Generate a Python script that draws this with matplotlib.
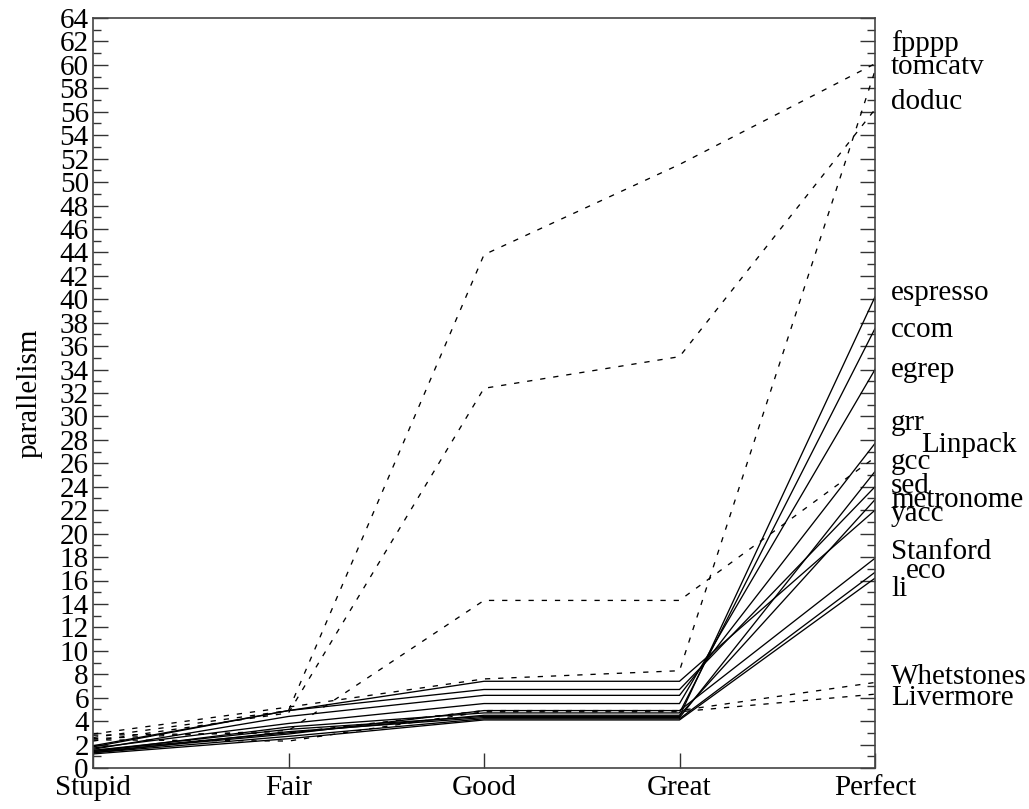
import matplotlib
matplotlib.use("Agg")
import matplotlib.pyplot as plt
import matplotlib.transforms as mtransforms
from matplotlib.ticker import MultipleLocator

plt.rcParams['font.family'] = ['Liberation Serif', 'DejaVu Serif']

models = ["Stupid", "Fair", "Good", "Great", "Perfect"]

# benchmark name -> parallelism under each model
fpppp      = [2.6, 4.9, 43.8, 51.5, 60.1]
tomcatv    = [2.9, 5.2, 7.6, 8.3, 59.5]
doduc      = [2.3, 4.7, 32.4, 35.1, 56.2]
linpack    = [2.5, 3.2, 14.3, 14.3, 26.5]
whetstones = [2.8, 3.0, 4.9, 4.9, 7.3]
livermore  = [2.4, 2.3, 4.8, 4.8, 6.3]

espresso   = [1.5, 3.3, 4.4, 4.4, 40.2]
ccom       = [1.4, 3.5, 4.7, 4.7, 37.5]
egrep      = [1.7, 3.8, 5.5, 5.5, 34.0]
grr        = [1.6, 4.4, 6.2, 6.2, 27.7]
gcc        = [1.3, 3.1, 4.3, 4.3, 25.3]
sed        = [1.8, 4.9, 6.7, 6.7, 24.0]
metronome  = [1.5, 3.0, 4.5, 4.5, 22.9]
yacc       = [1.9, 4.9, 7.4, 7.4, 22.0]
stanford   = [1.4, 2.9, 4.9, 4.9, 17.9]
eco        = [1.3, 2.7, 4.2, 4.2, 16.7]
li         = [1.2, 2.5, 4.1, 4.1, 16.2]

fp_names = ["fpppp", "tomcatv", "doduc", "Linpack", "Whetstones", "Livermore"]
fp_series = [fpppp, tomcatv, doduc, linpack, whetstones, livermore]
int_names = ["espresso", "ccom", "egrep", "grr", "gcc", "sed", "metronome",
             "yacc", "Stanford", "eco", "li"]
int_series = [espresso, ccom, egrep, grr, gcc, sed, metronome, yacc,
              stanford, eco, li]

# label heights at the right edge (data units)
label_names = ["fpppp", "tomcatv", "doduc", "espresso", "ccom", "egrep", "grr",
               "Linpack", "gcc", "sed", "metronome", "yacc", "Stanford", "eco",
               "li", "Whetstones", "Livermore"]
label_y = [61.8, 59.8, 56.8, 40.5, 37.4, 34.0, 29.4, 27.6, 26.1, 24.1, 22.9,
           21.7, 18.4, 16.8, 15.3, 7.8, 6.0]
label_dx = {"Linpack": 30, "eco": 15}  # extra pixel indent

yticks = list(range(0, 65, 2))
FS = 21

fig = plt.figure(figsize=(10.29, 8.09), dpi=100)
ax = fig.add_axes([93/1029, 41/809, (875-93)/1029, (768-18)/809])

x = list(range(len(models)))
for s in int_series:
    ax.plot(x, s, color='black', lw=0.95, solid_joinstyle='miter')
for s in fp_series:
    ax.plot(x, s, color='black', lw=0.95, linestyle=(0, (4, 6)))

ax.set_xlim(0, 4)
ax.set_ylim(0, 64)
ax.set_xticks(x)
ax.set_xticklabels(models, fontsize=FS)
ax.set_yticks(yticks)
ax.set_yticklabels([str(v) for v in yticks], fontsize=FS)
ax.yaxis.set_minor_locator(MultipleLocator(1))
ax.tick_params(axis='y', which='major', direction='in', length=11, width=1.0,
               left=True, right=True, pad=3, color='#333333')
ax.tick_params(axis='y', which='minor', direction='in', length=6, width=1.0,
               left=True, right=True, color='#333333')
ax.tick_params(axis='x', which='major', direction='in', length=11, width=1.0,
               bottom=True, top=False, pad=5, color='#333333')
for sp in ax.spines.values():
    sp.set_linewidth(1.2)
    sp.set_color('#444444')

ax.set_ylabel("parallelism", fontsize=FS, labelpad=12)

for name, yv in zip(label_names, label_y):
    dx = 16 + label_dx.get(name, 0)
    tr = mtransforms.offset_copy(ax.transData, fig=fig, x=dx * 72 / 100, y=0,
                                 units='points')
    ax.text(4, yv, name, transform=tr, ha='left', va='center', fontsize=FS,
            clip_on=False)

fig.savefig("out.png", dpi=100)
